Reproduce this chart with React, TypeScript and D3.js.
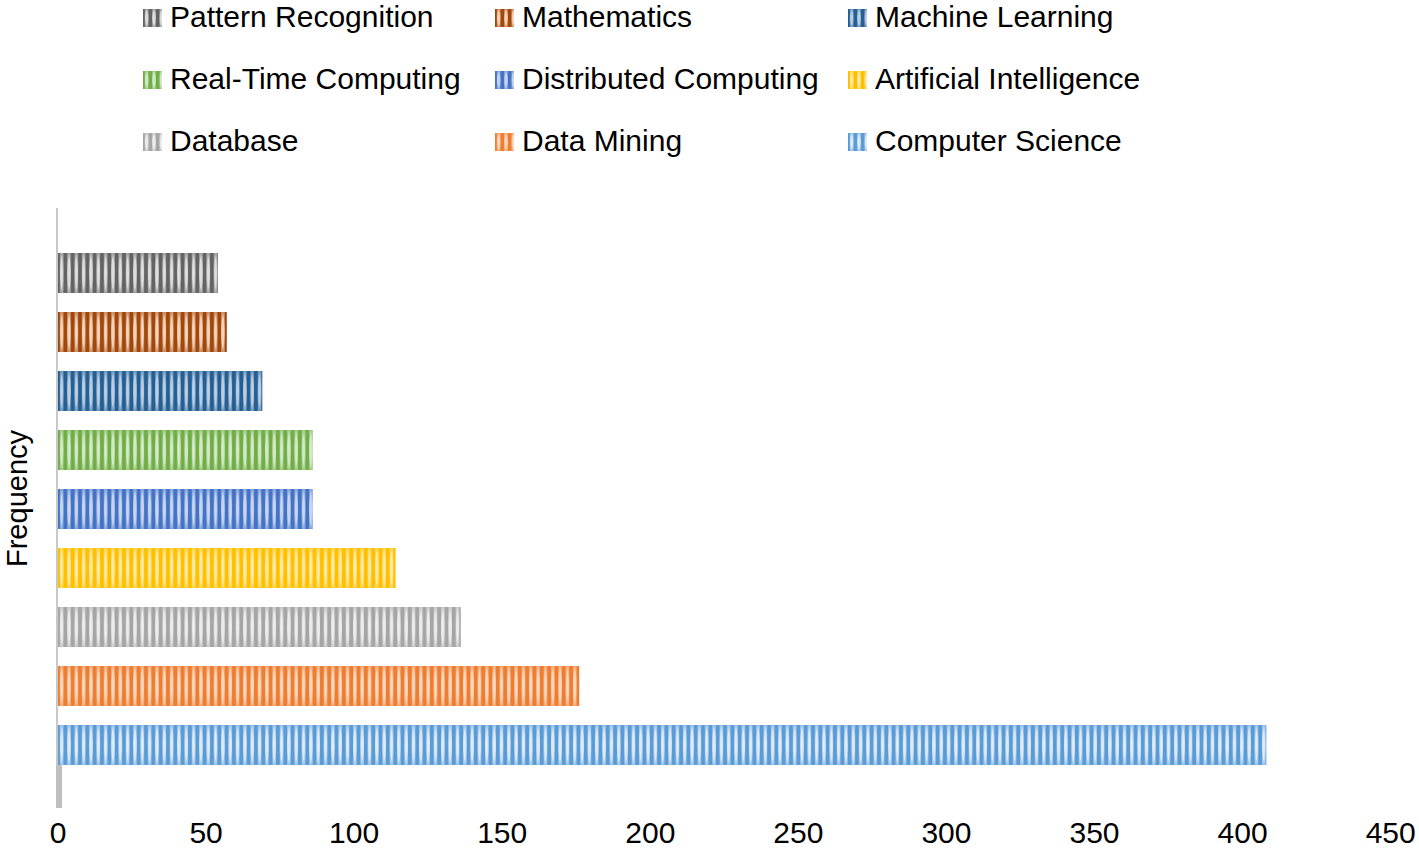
import React from "react";
import * as d3 from "d3";

const categories = [
  "Pattern Recognition",
  "Mathematics",
  "Machine Learning",
  "Real-Time Computing",
  "Distributed Computing",
  "Artificial Intelligence",
  "Database",
  "Data Mining",
  "Computer Science",
];
const values = [54, 57, 69, 86, 86, 114, 136, 176, 408];
const darkColors = [
  "#636363",
  "#9e480e",
  "#255e91",
  "#70ad47",
  "#4472c4",
  "#ffc000",
  "#a5a5a5",
  "#ed7d31",
  "#5b9bd5",
];
const lightColors = [
  "#dedede",
  "#f7d3b8",
  "#b9cfe6",
  "#d4e9c6",
  "#c6d5f0",
  "#ffeaa6",
  "#ececec",
  "#fbd7bd",
  "#dcebf8",
];
const xTicks = [0, 50, 100, 150, 200, 250, 300, 350, 400, 450];
const axisTitle = "Frequency";

const FONT = "'Liberation Sans', Arial, sans-serif";

export default function App() {
  const W = 1419;
  const H = 853;
  const plotTop = 208;
  const plotBottom = 808;
  const x = d3.scaleLinear().domain([0, 450]).range([58, 1390.7]);
  const y = d3
    .scaleBand<string>()
    .domain(categories)
    .range([243.5, 774.5])
    .paddingInner(0.322)
    .paddingOuter(0.161);
  const bw = y.bandwidth();
  const period = 7.33;
  const darkW = 3.6;

  const legendCols = [143, 495, 848];
  const legendRows = [27, 89, 151];
  const swW = 19;
  const swH = 18;

  const makePattern = (id: string, i: number, px: number, py: number, ph: number) => (
    <pattern
      key={id}
      id={id}
      patternUnits="userSpaceOnUse"
      x={px}
      y={py}
      width={period}
      height={ph}
    >
      <rect x={0} y={0} width={period} height={ph} fill={darkColors[i]} />
      <rect x={darkW * 0.5} y={0} width={period - darkW} height={ph} fill={`url(#rg${i})`} />
    </pattern>
  );

  const lastCat = categories[categories.length - 1];
  const stubTop = (y(lastCat) as number) + bw;

  return (
    <svg
      width={W}
      height={H}
      style={{ position: "absolute", left: 0, top: 0, background: "#fff" }}
    >
      <defs>
        {categories.map((c, i) => (
          <radialGradient key={`rg${i}`} id={`rg${i}`} cx="0.5" cy="0.5" r="0.5">
            <stop offset="0%" stopColor={lightColors[i]} />
            <stop offset="70%" stopColor={lightColors[i]} />
            <stop offset="100%" stopColor={d3.interpolateRgb(lightColors[i], darkColors[i])(0.5)} />
          </radialGradient>
        ))}
        {categories.map((c, i) => makePattern(`bp${i}`, i, x(0), y(c) as number, bw))}
        {categories.map((c, i) =>
          makePattern(
            `lp${i}`,
            i,
            legendCols[i % 3],
            legendRows[Math.floor(i / 3)] - swH,
            swH
          )
        )}
      </defs>

      {/* legend */}
      {categories.map((c, i) => {
        const lx = legendCols[i % 3];
        const ly = legendRows[Math.floor(i / 3)];
        return (
          <g key={`lg${i}`}>
            <rect x={lx} y={ly - swH} width={swW} height={swH} fill={`url(#lp${i})`} />
            <text
              x={lx + 27}
              y={ly}
              fontFamily={FONT}
              fontSize={30}
              fill="#000"
            >
              {c}
            </text>
          </g>
        );
      })}

      {/* bars */}
      {categories.map((c, i) => (
        <rect
          key={`bar${i}`}
          x={x(0)}
          y={y(c) as number}
          width={x(values[i]) - x(0)}
          height={bw}
          fill={`url(#bp${i})`}
        />
      ))}

      {/* vertical axis */}
      <line x1={57} x2={57} y1={plotTop} y2={plotBottom} stroke="#bfbfbf" strokeWidth={1.7} />
      <rect x={56} y={stubTop} width={6} height={plotBottom - stubTop} fill="#bfbfbf" />

      {/* x tick labels */}
      {xTicks.map((t) => (
        <text
          key={`t${t}`}
          x={x(t)}
          y={843}
          textAnchor="middle"
          fontFamily={FONT}
          fontSize={30}
          fill="#000"
        >
          {t}
        </text>
      ))}

      {/* axis title */}
      <text
        transform={`translate(27, 498.5) rotate(-90)`}
        textAnchor="middle"
        fontFamily={FONT}
        fontSize={29}
        fill="#000"
      >
        {axisTitle}
      </text>
    </svg>
  );
}
